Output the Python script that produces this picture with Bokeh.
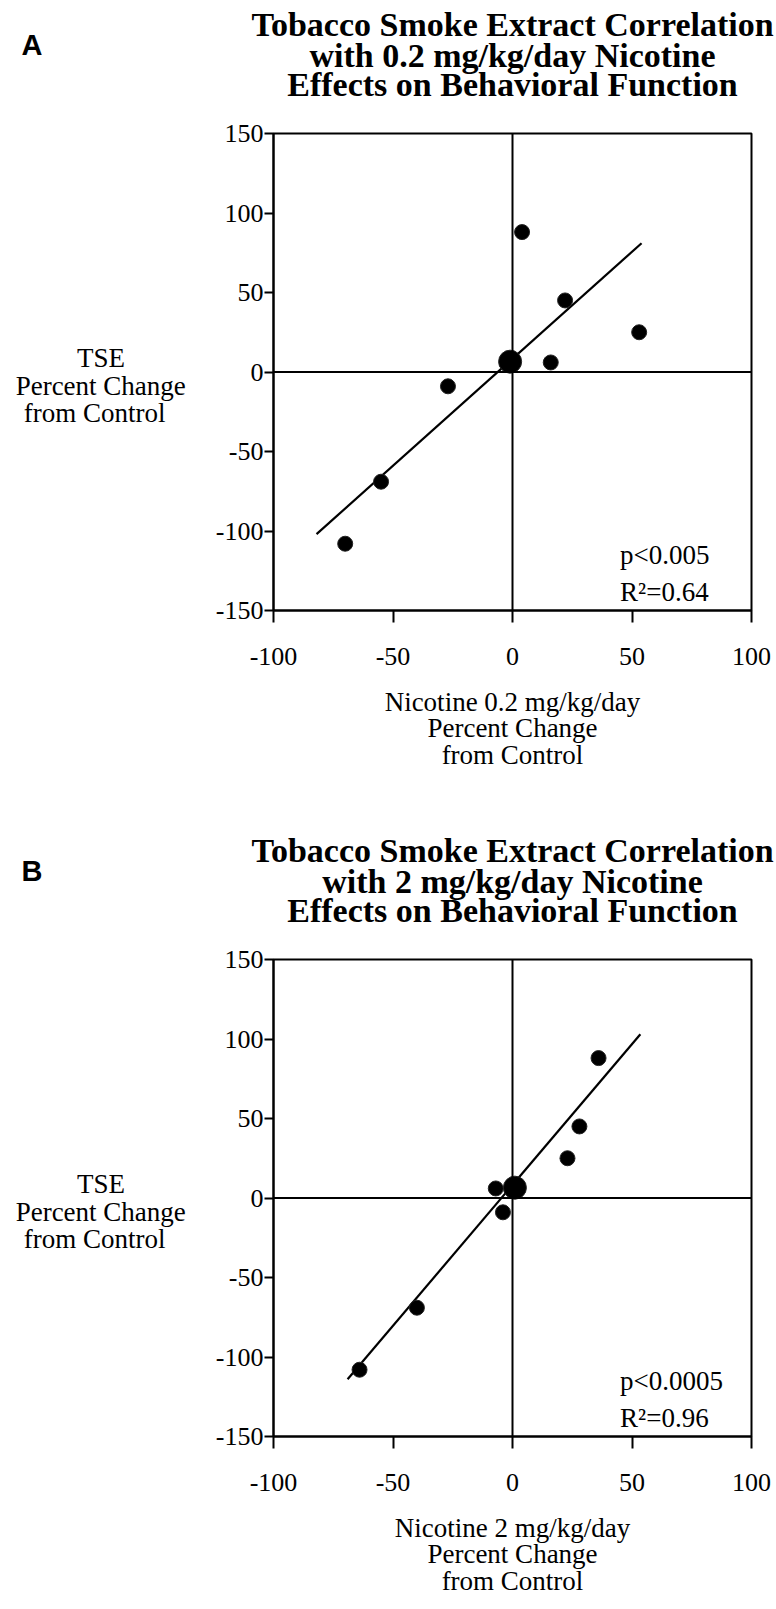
from bokeh.plotting import figure
from bokeh.layouts import column
from bokeh.models import Label, Span, FixedTicker, Range1d, Title
from bokeh.embed import file_html
from bokeh.resources import INLINE

# ---------------- data ----------------
tse_y = [88, 45, 25, 6, -9, -69, -108]          # TSE percent change (shared)
tse_center_y = [6.5]                             # overlapping cluster near origin

nic02_x = [4, 22, 53, 16, -27, -55, -70]         # Nicotine 0.2 mg/kg/day
nic02_center_x = [-1]
nic02_fit_x = [-82, 54]
nic02_fit_y = [-102, 81]

nic2_x = [36, 28, 23, -7, -4, -40, -64]          # Nicotine 2 mg/kg/day
nic2_center_x = [1]
nic2_fit_x = [-69, 53.5]
nic2_fit_y = [-114, 103]

x_ticks = [-100, -50, 0, 50, 100]
y_ticks = [-150, -100, -50, 0, 50, 100, 150]

title_a = ["Tobacco Smoke Extract Correlation",
           "with 0.2 mg/kg/day Nicotine",
           "Effects on Behavioral Function"]
title_b = ["Tobacco Smoke Extract Correlation",
           "with 2 mg/kg/day Nicotine",
           "Effects on Behavioral Function"]
xlabel_a = "Nicotine 0.2 mg/kg/day\nPercent Change\nfrom Control"
xlabel_b = "Nicotine 2 mg/kg/day\nPercent Change\nfrom Control"
NB = "\u00a0"
ylabel = NB + "\nTSE" + NB * 9 + "\nPercent Change\nfrom Control" + NB * 3
stats_a = ["p<0.005", "R\u00b2=0.64"]
stats_b = ["p<0.0005", "R\u00b2=0.96"]

SERIF = "Liberation Serif"


def title_line(text, standoff):
    return Title(text=text, align="center", vertical_align="bottom", standoff=standoff,
                 text_font=SERIF, text_font_style="bold", text_font_size="34px",
                 text_color="black")


def panel(letter, title_lines, xs, cx, fit_x, fit_y, stats, xlabel_text, bottom):
    p = figure(frame_width=478, frame_height=477,
               min_border_left=273, min_border_right=25,
               min_border_top=133, min_border_bottom=bottom,
               x_range=Range1d(-100, 100), y_range=Range1d(-150, 150),
               output_backend="svg", toolbar_location=None)
    p.grid.visible = False
    p.outline_line_color = "black"
    p.outline_line_width = 2
    p.outline_line_alpha = 1
    p.background_fill_color = "white"
    p.border_fill_color = "white"

    p.xaxis.ticker = FixedTicker(ticks=x_ticks)
    p.yaxis.ticker = FixedTicker(ticks=y_ticks)
    p.xaxis.major_label_overrides = {t: str(t) for t in x_ticks}
    p.yaxis.major_label_overrides = {t: str(t) for t in y_ticks}
    for ax in (p.xaxis, p.yaxis):
        ax.axis_line_width = 2
        ax.axis_line_color = "black"
        ax.major_tick_line_color = "black"
        ax.major_tick_line_width = 2
        ax.minor_tick_line_color = None
        ax.major_tick_in = 0
        ax.major_label_text_font = SERIF
        ax.major_label_text_font_size = "26px"
        ax.major_label_text_color = "black"
        ax.axis_label_text_font = SERIF
        ax.axis_label_text_font_size = "27px"
        ax.axis_label_text_font_style = "normal"
        ax.axis_label_text_color = "black"
    p.xaxis.major_tick_out = 12
    p.xaxis.major_label_standoff = 25
    p.yaxis.major_tick_out = 9
    p.yaxis.major_label_standoff = 1

    p.xaxis.axis_label = xlabel_text
    p.xaxis.axis_label_standoff = 19
    p.xaxis.axis_label_text_line_height = 0.89
    p.yaxis.axis_label = ylabel
    p.yaxis.axis_label_orientation = "horizontal"
    p.yaxis.axis_label_standoff = 27
    p.yaxis.axis_label_text_line_height = 0.92

    # ---- header (stacked upward from the frame): gap, title lines, panel letter ----
    p.add_layout(Title(text=NB, standoff=28, text_font_size="1px"), "above")
    p.add_layout(title_line(title_lines[2], 0), "above")
    p.add_layout(title_line(title_lines[1], -20), "above")
    p.add_layout(Title(text=letter, align="left", offset=-252, vertical_align="bottom",
                       standoff=-33, text_font="Liberation Sans", text_font_style="bold",
                       text_font_size="29px", text_color="black"), "above")
    p.add_layout(title_line(title_lines[0], 2), "above")

    p.add_layout(Span(location=0, dimension="height", line_color="black", line_width=2))
    p.add_layout(Span(location=0, dimension="width", line_color="black", line_width=2))

    p.line(fit_x, fit_y, line_color="black", line_width=2.2)
    p.scatter(xs, tse_y, size=15, fill_color="black", line_color="#222222", line_width=1)
    p.scatter(cx, tse_center_y, size=23, fill_color="black", line_color="#222222", line_width=1)

    for text, yy in zip(stats, [-115.4, -138.5]):
        p.add_layout(Label(x=45, y=yy, text=text, text_font=SERIF,
                           text_font_size="27px", text_align="left",
                           text_baseline="alphabetic", text_color="black"))
    return p


pa = panel("A", title_a, nic02_x, nic02_center_x, nic02_fit_x, nic02_fit_y,
           stats_a, xlabel_a, 216)
pb = panel("B", title_b, nic2_x, nic2_center_x, nic2_fit_x, nic2_fit_y,
           stats_b, xlabel_b, 170)

layout = column(pa, pb, spacing=0)
open("out.html", "w").write(file_html(layout, INLINE))
